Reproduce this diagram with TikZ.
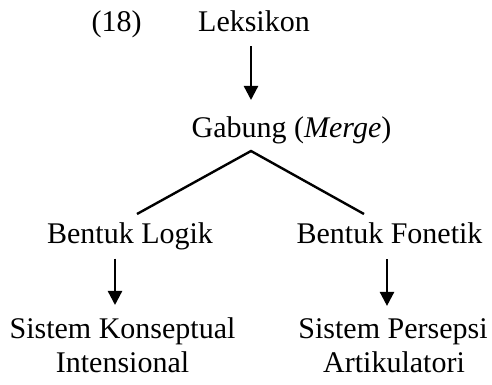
\documentclass[tikz,border=0pt]{standalone}
\usepackage{fontspec}
\setmainfont{Liberation Serif}
\usetikzlibrary{arrows.meta}
\begin{document}
\begin{tikzpicture}[x=1pt,y=-1pt,
  lbl/.style={anchor=base, inner sep=0pt, font=\fontsize{30}{34}\selectfont},
  conn/.style={line width=2.4pt},
  arr/.style={conn,-{Triangle[width=14pt,length=14pt]}}]
\useasboundingbox (0,0) rectangle (492,385);
% labels
\node[lbl] (num)   at (116.5,32) {(18)};
\node[lbl] (lek)   at (254,32)   {Leksikon};
\node[lbl] (gab)   at (291.5,137) {Gabung (\textit{Merge})};
\node[lbl] (logik) at (130,243)  {Bentuk Logik};
\node[lbl] (fon)   at (389.5,243) {Bentuk Fonetik};
\node[lbl] (skon)  at (122.5,338) {Sistem Konseptual};
\node[lbl] (int)   at (122.5,372) {Intensional};
\node[lbl] (sper)  at (393,338)  {Sistem Persepsi};
\node[lbl] (art)   at (394,372)  {Artikulatori};
% branching point and branch ends
\coordinate (apex) at (251,151);
\coordinate (lend) at (137,214);
\coordinate (rend) at (364,214);
\coordinate (larr) at (115,0);
\coordinate (rarr) at (387,0);
% connectors
\draw[arr, shorten <=14pt, shorten >=16pt] (lek.south -| apex) -- (gab.north -| apex);
\draw[conn, line join=miter] (lend) -- (apex) -- (rend);
\draw[arr, shorten <=9pt, shorten >=12pt] (logik.south -| larr) -- (skon.north -| larr);
\draw[arr, shorten <=16pt, shorten >=12pt] (fon.south -| rarr) -- (sper.north -| rarr);
\end{tikzpicture}
\end{document}
